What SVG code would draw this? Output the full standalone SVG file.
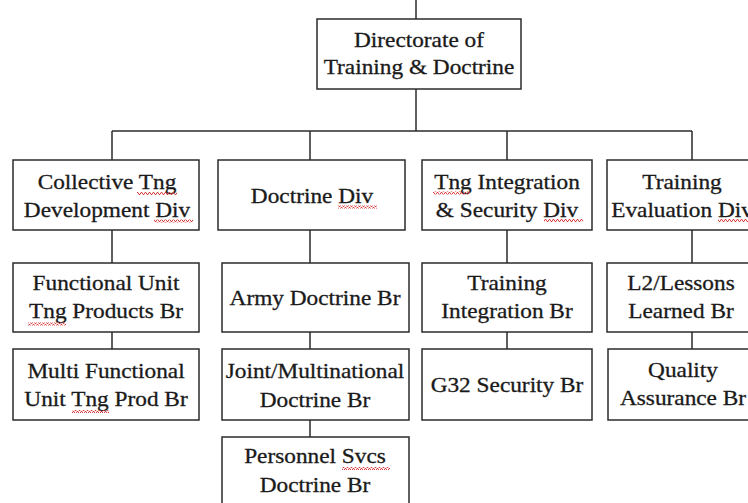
<svg xmlns="http://www.w3.org/2000/svg" width="748" height="503" viewBox="0 0 748 503">
  <defs>
    <style>
      .box { fill: #ffffff; stroke: #2b2b2b; stroke-width: 1.5; }
      .wire { fill: none; stroke: #2b2b2b; stroke-width: 1.5; }
      .lbl { font-family: "Liberation Serif", "Times New Roman", serif; font-size: 21px; fill: #1a1a1a; stroke: #1a1a1a; stroke-width: 0.3; text-anchor: middle; }
      .squig { fill: url(#wave); }
    </style>
    <!-- red wavy spell-check underline -->
    <pattern id="wave" width="4" height="3" patternUnits="userSpaceOnUse">
      <path d="M0,2.5 L1,0.5 L2,0.5 L3,2.5 L4,2.5" fill="none" stroke="#d42a2a" stroke-width="0.9"/>
    </pattern>
  </defs>
  <rect width="748" height="503" fill="#ffffff"/>

  <g id="connectors">
    <path class="wire" d="M416,0 V19"/>
    <path class="wire" d="M416,89 V131"/>
    <path class="wire" d="M112,131 H692"/>
    <path class="wire" d="M112,131 V160 M310,131 V160 M507,131 V160 M692,131 V160"/>
    <path class="wire" d="M112,230 V263 M112,332 V349"/>
    <path class="wire" d="M310,230 V263 M310,332 V349 M310,420 V437"/>
    <path class="wire" d="M507,230 V263 M507,332 V349"/>
    <path class="wire" d="M692,230 V263 M692,332 V349"/>
  </g>

  <g id="directorate">
    <rect class="box" x="317" y="19" width="204" height="70"/>
    <text class="lbl" transform="translate(419,47) scale(1.11,1)">Directorate of</text>
    <text class="lbl" transform="translate(419,74) scale(1.11,1)">Training &amp; Doctrine</text>
  </g>

  <g id="collective-div">
    <rect class="box" x="13" y="160" width="186" height="70"/>
    <text class="lbl" transform="translate(107,189) scale(1.11,1)">Collective Tng</text>
    <text class="lbl" transform="translate(107,217) scale(1.11,1)">Development Div</text>
    <rect class="squig" x="137" y="192" width="40" height="3"/>
    <rect class="squig" x="154" y="219.5" width="39" height="3"/>
  </g>

  <g id="doctrine-div">
    <rect class="box" x="218" y="160" width="187" height="70"/>
    <text class="lbl" transform="translate(312,203) scale(1.11,1)">Doctrine Div</text>
    <rect class="squig" x="338" y="205.5" width="39" height="3"/>
  </g>

  <g id="integration-div">
    <rect class="box" x="422" y="160" width="170" height="70"/>
    <text class="lbl" transform="translate(507,189) scale(1.11,1)">Tng Integration</text>
    <text class="lbl" transform="translate(507,217) scale(1.11,1)">&amp; Security Div</text>
    <rect class="squig" x="433" y="191.5" width="37" height="3"/>
    <rect class="squig" x="544" y="219" width="39" height="3"/>
  </g>

  <g id="evaluation-div">
    <rect class="box" x="607" y="160" width="152" height="70"/>
    <text class="lbl" transform="translate(682,189) scale(1.11,1)">Training</text>
    <text class="lbl" transform="translate(682,217) scale(1.11,1)">Evaluation Div</text>
    <rect class="squig" x="718" y="219" width="32" height="3"/>
  </g>

  <g id="functional-unit-br">
    <rect class="box" x="13" y="263" width="186" height="69"/>
    <text class="lbl" transform="translate(106,290) scale(1.11,1)">Functional Unit</text>
    <text class="lbl" transform="translate(106,318) scale(1.11,1)">Tng Products Br</text>
    <rect class="squig" x="28" y="322.5" width="38" height="3"/>
  </g>

  <g id="multi-functional-br">
    <rect class="box" x="13" y="349" width="186" height="71"/>
    <text class="lbl" transform="translate(106,378) scale(1.11,1)">Multi Functional</text>
    <text class="lbl" transform="translate(106,406) scale(1.11,1)">Unit Tng Prod Br</text>
    <rect class="squig" x="72" y="410" width="37" height="3"/>
  </g>

  <g id="army-doctrine-br">
    <rect class="box" x="222" y="263" width="187" height="69"/>
    <text class="lbl" transform="translate(315,305) scale(1.11,1)">Army Doctrine Br</text>
  </g>

  <g id="joint-doctrine-br">
    <rect class="box" x="222" y="349" width="187" height="71"/>
    <text class="lbl" transform="translate(315,378) scale(1.11,1)">Joint/Multinational</text>
    <text class="lbl" transform="translate(315,407) scale(1.11,1)">Doctrine Br</text>
  </g>

  <g id="personnel-doctrine-br">
    <rect class="box" x="222" y="437" width="187" height="72"/>
    <text class="lbl" transform="translate(315,463) scale(1.11,1)">Personnel Svcs</text>
    <text class="lbl" transform="translate(315,492) scale(1.11,1)">Doctrine Br</text>
    <rect class="squig" x="342" y="467" width="48" height="3"/>
  </g>

  <g id="training-integration-br">
    <rect class="box" x="422" y="263" width="170" height="69"/>
    <text class="lbl" transform="translate(507,290) scale(1.11,1)">Training</text>
    <text class="lbl" transform="translate(507,318) scale(1.11,1)">Integration Br</text>
  </g>

  <g id="g32-security-br">
    <rect class="box" x="422" y="349" width="170" height="71"/>
    <text class="lbl" transform="translate(507,392) scale(1.11,1)">G32 Security Br</text>
  </g>

  <g id="lessons-learned-br">
    <rect class="box" x="607" y="263" width="152" height="69"/>
    <text class="lbl" transform="translate(681,290) scale(1.11,1)">L2/Lessons</text>
    <text class="lbl" transform="translate(681,318) scale(1.11,1)">Learned Br</text>
  </g>

  <g id="quality-assurance-br">
    <rect class="box" x="608" y="349" width="151" height="71"/>
    <text class="lbl" transform="translate(683,377) scale(1.11,1)">Quality</text>
    <text class="lbl" transform="translate(683,405) scale(1.11,1)">Assurance Br</text>
  </g>
</svg>
